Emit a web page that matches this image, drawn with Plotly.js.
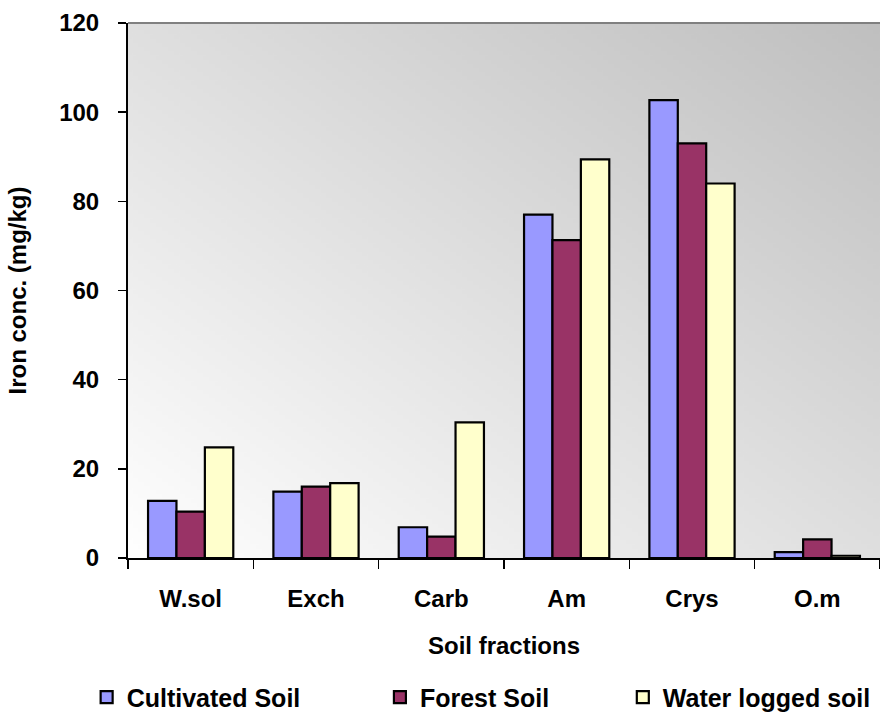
<!DOCTYPE html>
<html>
<head>
<meta charset="utf-8">
<script src="https://cdn.plot.ly/plotly-3.0.1.min.js"></script>
<style>html,body{margin:0;padding:0;background:#fff;}#chart{width:880px;height:716px;}</style>
</head>
<body>
<div id="chart"></div>
<script>
// ---- data ----
const categories = ["W.sol", "Exch", "Carb", "Am", "Crys", "O.m"];
const cultivated = [12.8, 14.9, 6.9, 77.0, 102.7, 1.3];
const forest = [10.4, 16.0, 4.8, 71.3, 93.0, 4.2];
const waterLogged = [24.8, 16.8, 30.4, 89.4, 84.0, 0.5];
const seriesNames = ["Cultivated Soil", "Forest Soil", "Water logged soil"];
const yTicks = [0, 20, 40, 60, 80, 100, 120];

// ---- gradient background (bottom-left white to top-right grey) ----
const cv = document.createElement('canvas');
cv.width = 256; cv.height = 256;
const ctx = cv.getContext('2d');
const g = ctx.createLinearGradient(0, 256, 256, 0);
g.addColorStop(0, '#ffffff');
g.addColorStop(1, '#bfbfbf');
ctx.fillStyle = g;
ctx.fillRect(0, 0, 256, 256);
const bgURL = cv.toDataURL('image/png');

const FONT = 'Liberation Sans, Arial, sans-serif';
const line = {color: '#000000', width: 2.2};

const traces = [
  {type: 'bar', name: seriesNames[0], x: categories, y: cultivated,
   marker: {color: '#9999FF', line: line}, legend: 'legend'},
  {type: 'bar', name: seriesNames[1], x: categories, y: forest,
   marker: {color: '#993366', line: line}, legend: 'legend2'},
  {type: 'bar', name: seriesNames[2], x: categories, y: waterLogged,
   marker: {color: '#FFFFCC', line: line}, legend: 'legend3'}
];

const legendBase = {
  orientation: 'h', yref: 'container', yanchor: 'middle', y: 0.026, xanchor: 'left',
  bgcolor: 'rgba(0,0,0,0)', borderwidth: 0,
  font: {family: FONT, size: 25, weight: 700, color: '#000'}
};

const layout = {
  width: 880, height: 716,
  margin: {l: 128, r: 0, t: 23, b: 158, pad: 0, autoexpand: false},
  paper_bgcolor: '#ffffff',
  plot_bgcolor: 'rgba(0,0,0,0)',
  barmode: 'group', bargap: 0.32, bargroupgap: 0,
  showlegend: true,
  legend: Object.assign({}, legendBase, {x: -0.055}),
  legend2: Object.assign({}, legendBase, {x: 0.335}),
  legend3: Object.assign({}, legendBase, {x: 0.658}),
  xaxis: {
    type: 'category', tickson: 'boundaries',
    ticks: 'outside', ticklen: 9, tickwidth: 1.5, tickcolor: '#000',
    showline: true, linecolor: '#000', linewidth: 2,
    showgrid: false, zeroline: false,
    ticklabelstandoff: 18,
    tickfont: {family: FONT, size: 24, weight: 700, color: '#000'},
    title: {text: 'Soil fractions', standoff: 26,
            font: {family: FONT, size: 24, weight: 700, color: '#000'}}
  },
  yaxis: {
    range: [0, 120], tickvals: yTicks, ticktext: yTicks.map(String),
    ticks: 'outside', ticklen: 8, tickwidth: 1.5, tickcolor: '#000',
    showline: true, linecolor: '#000', linewidth: 2,
    showgrid: false, zeroline: false,
    ticklabelstandoff: 14,
    tickfont: {family: FONT, size: 24, weight: 700, color: '#000'},
    title: {text: 'Iron conc. (mg/kg)', standoff: 26,
            font: {family: FONT, size: 24, weight: 700, color: '#000'}}
  },
  images: [{
    source: bgURL, xref: 'paper', yref: 'paper', x: 0, y: 1,
    sizex: 1, sizey: 1, xanchor: 'left', yanchor: 'top',
    sizing: 'stretch', layer: 'below'
  }],
  shapes: [{
    type: 'line', xref: 'paper', yref: 'paper', x0: 0, x1: 1, y0: 1, y1: 1,
    line: {color: '#808080', width: 2}
  }]
};

Plotly.newPlot('chart', traces, layout, {displayModeBar: false, staticPlot: true});
</script>
</body>
</html>
